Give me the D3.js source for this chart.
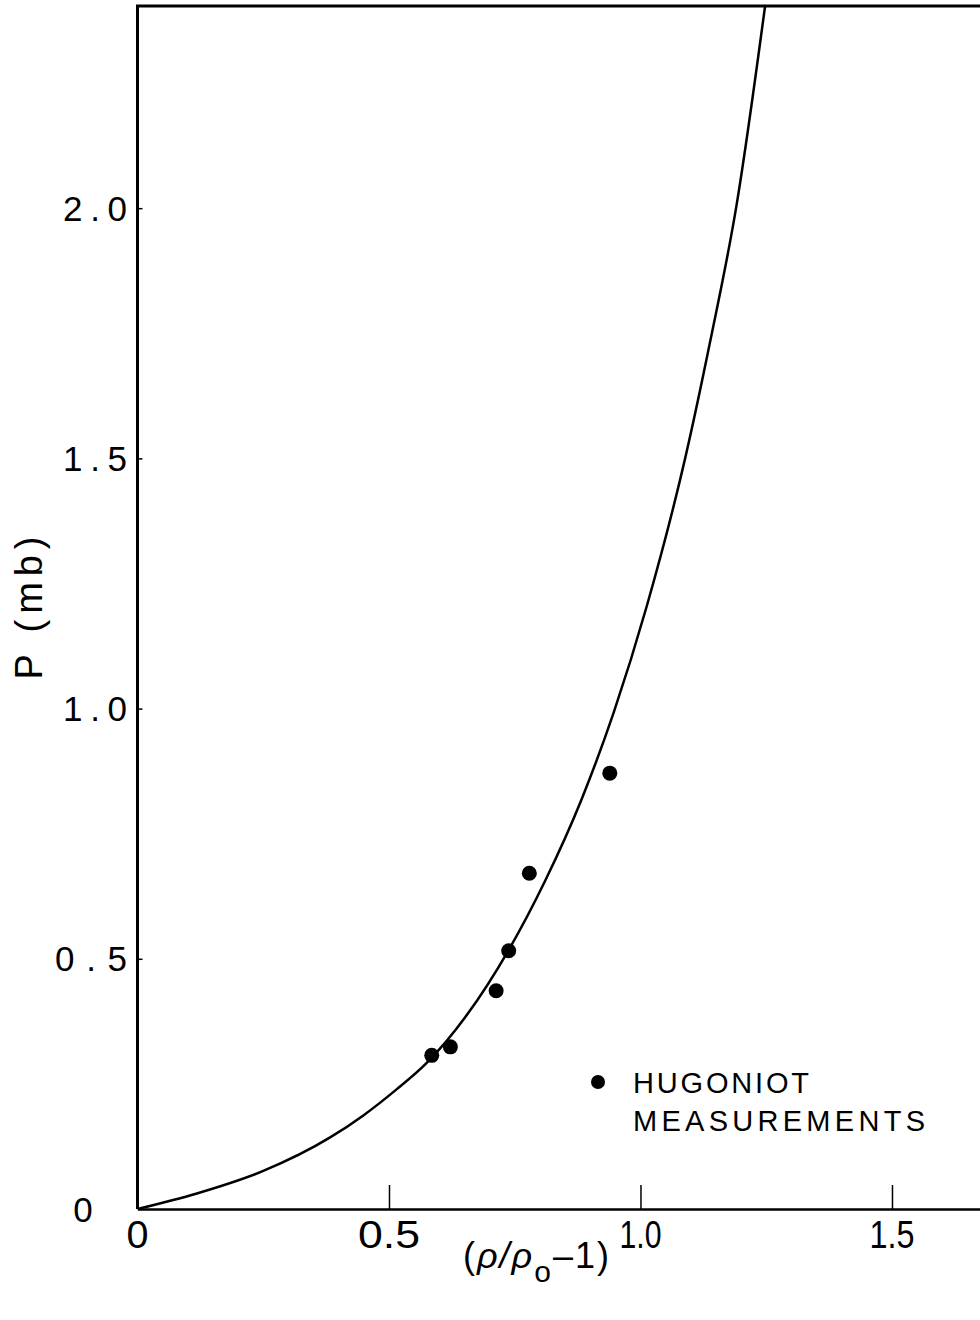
<!DOCTYPE html>
<html><head><meta charset="utf-8">
<script src="https://cdn.jsdelivr.net/npm/d3@7"></script>
<style>
html,body{margin:0;padding:0;background:#fff;}
text{font-family:"Liberation Sans",Arial,sans-serif;fill:#000;}
</style></head>
<body>
<svg id="c" width="980" height="1320"></svg>
<script>
// ---- data ----
const xTicks = [0, 0.5, 1.0, 1.5];
const xTickLabels = ["0", "0.5", "1.0", "1.5"];
const yTicks = [0, 0.5, 1.0, 1.5, 2.0];
const yTickLabels = ["0", "0.5", "1.0", "1.5", "2.0"];
// Hugoniot measurements
const measX = [0.585, 0.622, 0.713, 0.738, 0.779, 0.939];
const measP = [0.307, 0.324, 0.436, 0.516, 0.671, 0.871];
// fitted curve
const curveX = [0, 0.118, 0.250, 0.383, 0.449, 0.515, 0.575, 0.655, 0.737, 0.810, 0.883, 0.947, 1.012, 1.089, 1.138, 1.191, 1.248];
const curveP = [0, 0.031, 0.076, 0.143, 0.187, 0.239, 0.292, 0.388, 0.516, 0.655, 0.819, 0.993, 1.203, 1.501, 1.731, 2.006, 2.406];
const legendLines = ["HUGONIOT", "MEASUREMENTS"];

// ---- chart ----
const svg = d3.select("#c");
const x = d3.scaleLinear().domain([0, 1.675]).range([137.5, 980]);
const y = d3.scaleLinear().domain([0, 2.404]).range([1209, 6]);

// frame
svg.append("line").attr("x1", x(0)).attr("x2", x(0)).attr("y1", y(2.404)).attr("y2", y(0))
  .attr("stroke", "#000").attr("stroke-width", 3);
svg.append("line").attr("x1", x(0) - 1.5).attr("x2", 980).attr("y1", y(2.404)).attr("y2", y(2.404))
  .attr("stroke", "#000").attr("stroke-width", 3);

// x axis
const xAxis = d3.axisBottom(x).tickValues(xTicks.slice(1)).tickSizeInner(-24).tickSizeOuter(0).tickFormat("");
const gx = svg.append("g").attr("transform", `translate(0,${y(0)})`).call(xAxis);
gx.select(".domain").attr("stroke-width", 2.5);
gx.selectAll(".tick line").attr("stroke-width", 1.5);
const xLabW = [22, 62, 42, 45];
svg.append("g").selectAll("text").data(xTicks).join("text")
  .attr("x", d => x(d)).attr("y", 1248).attr("text-anchor", "middle")
  .attr("font-size", 38)
  .attr("textLength", (d, i) => xLabW[i]).attr("lengthAdjust", "spacingAndGlyphs")
  .text((d, i) => xTickLabels[i]);

// y axis
const yAxis = d3.axisRight(y).tickValues(yTicks.slice(1)).tickSizeInner(5).tickSizeOuter(0).tickFormat("");
const gy = svg.append("g").attr("transform", `translate(${x(0)},0)`).call(yAxis);
gy.select(".domain").remove();
gy.selectAll(".tick line").attr("stroke-width", 1.5);
const yLabW = [22, 72, 64, 64, 64];
svg.append("g").selectAll("text").data(yTicks).join("text")
  .attr("x", d => d === 0 ? 83 : 127)
  .attr("y", d => y(d) + 12.5)
  .attr("text-anchor", d => d === 0 ? "middle" : "end")
  .attr("font-size", 35)
  .attr("textLength", (d, i) => yLabW[i]).attr("lengthAdjust", "spacing")
  .text((d, i) => yTickLabels[i]);

// axis titles
svg.append("text").attr("transform", "translate(42,608) rotate(-90)")
  .attr("text-anchor", "middle").attr("font-size", 38)
  .attr("textLength", 143).attr("lengthAdjust", "spacing")
  .text("P (mb)");
const xt = svg.append("text").attr("x", 463).attr("y", 1268).attr("font-size", 36)
  .attr("letter-spacing", 2);
xt.append("tspan").text("(");
xt.append("tspan").attr("font-style", "italic").text("ρ/ρ");
xt.append("tspan").attr("dy", 14).attr("font-size", 30).text("o");
xt.append("tspan").attr("dy", -14).text("–1)");

// curve
const pts = curveX.map((v, i) => [v, curveP[i]]);
svg.append("path").datum(pts)
  .attr("d", d3.line().x(d => x(d[0])).y(d => y(d[1])).curve(d3.curveMonotoneX))
  .attr("fill", "none").attr("stroke", "#000").attr("stroke-width", 2.5);

// measurements
svg.append("g").selectAll("circle").data(measX).join("circle")
  .attr("cx", d => x(d)).attr("cy", (d, i) => y(measP[i])).attr("r", 7.5).attr("fill", "#000");

// legend
svg.append("circle").attr("cx", 598).attr("cy", 1082).attr("r", 7).attr("fill", "#000");
svg.append("g").selectAll("text").data(legendLines).join("text")
  .attr("x", 633).attr("y", (d, i) => 1093 + i * 38)
  .attr("font-size", 29)
  .attr("textLength", (d, i) => i === 0 ? 176 : 292).attr("lengthAdjust", "spacing")
  .text(d => d);
</script>
</body></html>
